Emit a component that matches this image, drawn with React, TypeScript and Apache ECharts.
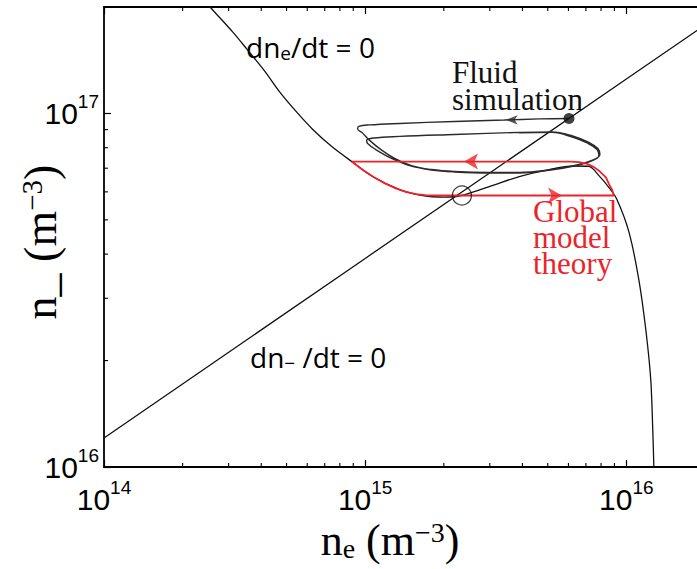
import { useEffect, useRef } from "react";
import * as echarts from "echarts";

const X_MIN = 1e14;
const X_MAX = 2e16;
const Y_MIN = 1e16;
const Y_MAX = 2e17;

const xMinorTicks = [2e14, 3e14, 4e14, 5e14, 6e14, 7e14, 8e14, 9e14, 2e15, 3e15, 4e15, 5e15, 6e15, 7e15, 8e15, 9e15];
const yMinorTicks = [2e16, 3e16, 4e16, 5e16, 6e16, 7e16, 8e16, 9e16];

// dn_-/dt = 0 (straight in log-log)
const ionNullcline: number[][] = [
  [1e14, 1.208e16],
  [1e15, 3.89e16],
  [1e16, 1.251e17],
  [2e16, 1.778e17],
];

// dn_e/dt = 0
const electronNullcline: number[][] = [
  [2.4e14, 2.1e17],
  [2.55e14, 1.997e17],
  [3.12e14, 1.696e17],
  [3.53e14, 1.518e17],
  [4.13e14, 1.315e17],
  [4.72e14, 1.147e17],
  [5.48e14, 1.0065e17],
  [6.3e14, 9.01e16],
  [7.45e14, 8.06e16],
  [8.88e14, 7.31e16],
  [1.068e15, 6.63e16],
  [1.354e15, 6.09e16],
  [1.658e15, 5.86e16],
  [2.011e15, 5.8e16],
  [2.335e15, 5.86e16],
  [2.987e15, 6.21e16],
  [3.888e15, 6.63e16],
  [5.06e15, 6.94e16],
  [6.3e15, 7.1e16],
  [7.19e15, 7.08e16],
  [7.85e15, 6.67e16],
  [8.58e15, 6.17e16],
  [9.2e15, 5.71e16],
  [1.022e16, 4.63e16],
  [1.116e16, 3.39e16],
  [1.187e16, 2.444e16],
  [1.24e16, 1.764e16],
  [1.262e16, 1.273e16],
  [1.274e16, 1.0e16],
  [1.276e16, 0.92e16],
];

// Global model theory (red loop)
const globalModel: number[][] = [
  [8.88e14, 7.31e16],
  [2.0e15, 7.31e16],
  [4.0e15, 7.31e16],
  [6.14e15, 7.31e16],
  [6.59e15, 7.28e16],
  [7.07e15, 7.2e16],
  [7.52e15, 7.05e16],
  [7.92e15, 6.85e16],
  [8.35e15, 6.59e16],
  [8.58e15, 6.31e16],
  [8.81e15, 6.09e16],
  [8.96e15, 5.86e16],
  [6.0e15, 5.86e16],
  [3.0e15, 5.86e16],
  [1.842e15, 5.86e16],
  [1.7e15, 5.87e16],
  [1.57e15, 5.91e16],
  [1.44e15, 5.99e16],
  [1.31e15, 6.14e16],
  [1.19e15, 6.34e16],
  [1.08e15, 6.6e16],
  [9.8e14, 6.92e16],
  [8.88e14, 7.31e16],
];

// Fluid simulation trajectory
const fluidSimulation: number[][] = [
  [6.03e15, 9.68e16],
  [4.634e15, 9.65e16],
  [3.407e15, 9.58e16],
  [2.196e15, 9.49e16],
  [1.354e15, 9.37e16],
  [1.04e15, 9.28e16],
  [9.45e14, 9.19e16],
  [9.36e14, 9.04e16],
  [9.7e14, 8.84e16],
  [1.04e15, 8.39e16],
  [1.146e15, 7.91e16],
  [1.296e15, 7.46e16],
  [1.505e15, 7.12e16],
  [1.794e15, 6.94e16],
  [2.196e15, 6.85e16],
  [2.987e15, 6.81e16],
  [3.888e15, 6.81e16],
  [5.06e15, 6.92e16],
  [6.3e15, 7.12e16],
  [7.38e15, 7.36e16],
  [7.92e15, 7.65e16],
  [7.78e15, 7.96e16],
  [7.19e15, 8.28e16],
  [6.3e15, 8.61e16],
  [5.19e15, 8.87e16],
  [3.888e15, 8.84e16],
  [2.196e15, 8.72e16],
  [1.354e15, 8.61e16],
  [1.077e15, 8.52e16],
  [1.013e15, 8.39e16],
  [1.022e15, 8.22e16],
  [1.096e15, 7.91e16],
  [1.262e15, 7.46e16],
  [1.479e15, 7.12e16],
  [1.794e15, 6.92e16],
  [2.196e15, 6.83e16],
  [2.987e15, 6.78e16],
  [3.888e15, 6.78e16],
  [5.06e15, 6.9e16],
  [6.3e15, 7.1e16],
  [7.34e15, 7.33e16],
  [7.85e15, 7.6e16],
  [7.72e15, 7.91e16],
  [7.07e15, 8.25e16],
  [6.25e15, 8.56e16],
  [5.19e15, 8.84e16],
  [3.888e15, 8.81e16],
];

const fluidStart = [6.03e15, 9.68e16];
const fixedPoint = [2.346e15, 5.86e16];
const fluidArrow = [3.45e15, 9.59e16];
const globalArrowLeft = [2.39e15, 7.31e16];
const globalArrowRight = [5.67e15, 5.86e16];

const SANS = "'Liberation Sans', Arial, Helvetica, sans-serif";
const SERIF = "'Liberation Serif', 'Times New Roman', serif";
const LABEL_SANS = "'Open Sans', 'DejaVu Sans', sans-serif";
const RED = "#ec2329";

function powLabel(v: number) {
  const e = Math.log10(v);
  const r = Math.round(e);
  if (Math.abs(e - r) > 1e-6) return "";
  return `{b|10}{s|${r}}`;
}

const tickRich = {
  b: { fontSize: 30, lineHeight: 43, fontFamily: SANS, color: "#000" },
  s: { fontSize: 19, lineHeight: 19, verticalAlign: "top", fontFamily: SANS, color: "#000" },
};

function makeAxis(position: string, showLabel: boolean, isY: boolean) {
  return {
    type: "log",
    logBase: 10,
    min: isY ? Y_MIN : X_MIN,
    max: isY ? Y_MAX : X_MAX,
    position,
    axisLine: { show: true, onZero: false, lineStyle: { color: "#000", width: 1.8 } },
    axisTick: { show: true, inside: true, length: 7, lineStyle: { color: "#000", width: 1.2 } },
    splitLine: { show: false },
    minorTick: { show: false },
    axisLabel: {
      show: showLabel,
      formatter: powLabel,
      rich: tickRich,
      margin: isY ? 5 : 11,
      showMaxLabel: false,
    },
  };
}

export default function App() {
  const ref = useRef<HTMLDivElement>(null);
  useEffect(() => {
    const chart = echarts.init(ref.current!, null, { renderer: "svg" });
    const option: any = {
      animation: false,
      backgroundColor: "#fff",
      grid: { left: 104, top: 7, width: 601, height: 460, containLabel: false, outerBoundsMode: "none" },
      xAxis: [makeAxis("bottom", true, false), makeAxis("top", false, false)],
      yAxis: [makeAxis("left", true, true), makeAxis("right", false, true)],
      series: [
        {
          type: "custom",
          silent: true,
          data: xMinorTicks.map((v) => [v, Y_MIN]),
          renderItem: (_p: any, api: any) => {
            const v = api.value(0);
            const b = api.coord([v, Y_MIN]);
            const t = api.coord([v, Y_MAX]);
            const st = { stroke: "#000", lineWidth: 1.1 };
            return {
              type: "group",
              children: [
                { type: "line", shape: { x1: b[0], y1: b[1], x2: b[0], y2: b[1] - 4 }, style: st },
                { type: "line", shape: { x1: t[0], y1: t[1], x2: t[0], y2: t[1] + 4 }, style: st },
              ],
            };
          },
        },
        {
          type: "custom",
          silent: true,
          data: yMinorTicks.map((v) => [X_MIN, v]),
          renderItem: (_p: any, api: any) => {
            const v = api.value(1);
            const l = api.coord([X_MIN, v]);
            const r = api.coord([X_MAX, v]);
            const st = { stroke: "#000", lineWidth: 1.1 };
            return {
              type: "group",
              children: [
                { type: "line", shape: { x1: l[0], y1: l[1], x2: l[0] + 4, y2: l[1] }, style: st },
                { type: "line", shape: { x1: r[0], y1: r[1], x2: r[0] - 4, y2: r[1] }, style: st },
              ],
            };
          },
        },
        {
          name: "dn_-/dt = 0",
          type: "line",
          data: ionNullcline,
          symbol: "none",
          silent: true,
          lineStyle: { color: "#111", width: 1.3 },
          z: 2,
        },
        {
          name: "dn_e/dt = 0",
          type: "line",
          data: electronNullcline,
          symbol: "none",
          smooth: 0.3,
          silent: true,
          lineStyle: { color: "#111", width: 1.3 },
          z: 2,
        },
        {
          name: "Fluid simulation",
          type: "line",
          data: fluidSimulation,
          symbol: "none",
          smooth: 0.4,
          silent: true,
          lineStyle: { color: "#2b2b2b", width: 1.4 },
          z: 3,
        },
        {
          name: "Global model theory",
          type: "line",
          data: globalModel,
          symbol: "none",
          silent: true,
          lineStyle: { color: RED, width: 1.8 },
          z: 4,
        },
        {
          type: "scatter",
          silent: true,
          z: 5,
          data: [globalArrowLeft],
          symbol: "arrow",
          symbolSize: [12, 14],
          symbolRotate: 90,
          itemStyle: { color: RED },
        },
        {
          type: "scatter",
          silent: true,
          z: 5,
          data: [globalArrowRight],
          symbol: "arrow",
          symbolSize: [12, 14],
          symbolRotate: -90,
          itemStyle: { color: RED },
        },
        {
          type: "scatter",
          silent: true,
          z: 5,
          data: [fluidArrow],
          symbol: "arrow",
          symbolSize: [7, 12],
          symbolRotate: 90,
          itemStyle: { color: "#2b2b2b" },
        },
        {
          type: "scatter",
          silent: true,
          z: 6,
          data: [fluidStart],
          symbol: "circle",
          symbolSize: 11,
          itemStyle: { color: "#111" },
        },
        {
          type: "scatter",
          silent: true,
          z: 6,
          data: [fixedPoint],
          symbol: "circle",
          symbolSize: 19,
          itemStyle: { color: "rgba(0,0,0,0)", borderColor: "#111", borderWidth: 1.3 },
        },
      ],
      graphic: [
        {
          type: "text",
          x: 246,
          y: 47,
          style: {
            text: "{a|dn}{e|e}{a|/dt = 0}",
            textVerticalAlign: "middle",
            fill: "#000",
            rich: {
              a: { fontSize: 28, lineHeight: 30, fontFamily: LABEL_SANS, fill: "#000" },
              e: { fontSize: 19, lineHeight: 19, padding: [12, 0, 0, 0], verticalAlign: "bottom", fontFamily: LABEL_SANS, fill: "#000" },
            },
          },
        },
        {
          type: "text",
          x: 250,
          y: 357,
          style: {
            text: "{a|dn}{m|−}{a| /dt = 0}",
            textVerticalAlign: "middle",
            fill: "#000",
            rich: {
              a: { fontSize: 28, lineHeight: 30, fontFamily: LABEL_SANS, fill: "#000" },
              m: { fontSize: 19, lineHeight: 19, padding: [12, 0, 0, 0], verticalAlign: "bottom", fontFamily: LABEL_SANS, fill: "#000" },
            },
          },
        },
        {
          type: "text",
          x: 452,
          y: 59,
          style: {
            text: "Fluid\nsimulation",
            font: `31px ${SERIF}`,
            lineHeight: 27,
            fill: "#111",
            textVerticalAlign: "top",
          },
        },
        {
          type: "text",
          x: 533,
          y: 198,
          style: {
            text: "Global\nmodel\ntheory",
            font: `31px ${SERIF}`,
            lineHeight: 26,
            fill: RED,
            textVerticalAlign: "top",
          },
        },
        {
          type: "text",
          x: 390,
          y: 540,
          style: {
            text: "{n|n}{sub|e}{n| (m}{sup|−3}{n|)}",
            textAlign: "center",
            textVerticalAlign: "middle",
            fill: "#000",
            rich: {
              n: { fontSize: 44, lineHeight: 44, fontFamily: SERIF, fill: "#000" },
              sub: { fontSize: 28, lineHeight: 28, padding: [32, 0, 0, 0], verticalAlign: "bottom", fontFamily: SERIF, fill: "#000" },
              sup: { fontSize: 28, lineHeight: 28, padding: [0, 0, 32, 0], verticalAlign: "top", fontFamily: SERIF, fill: "#000" },
            },
          },
        },
        {
          type: "text",
          x: 40,
          y: 242,
          rotation: Math.PI / 2,
          style: {
            text: "{n|n_ (m}{sup|−3}{n|)}",
            textAlign: "center",
            textVerticalAlign: "middle",
            fill: "#000",
            rich: {
              n: { fontSize: 46, lineHeight: 46, fontFamily: SERIF, fill: "#000" },
              sup: { fontSize: 29, lineHeight: 29, padding: [0, 0, 31, 0], verticalAlign: "top", fontFamily: SERIF, fill: "#000" },
            },
          },
        },
      ],
    };
    chart.setOption(option);
    return () => chart.dispose();
  }, []);
  return (
    <div
      ref={ref}
      style={{ position: "fixed", left: 0, top: 0, width: 697, height: 569, background: "#fff" }}
    />
  );
}
